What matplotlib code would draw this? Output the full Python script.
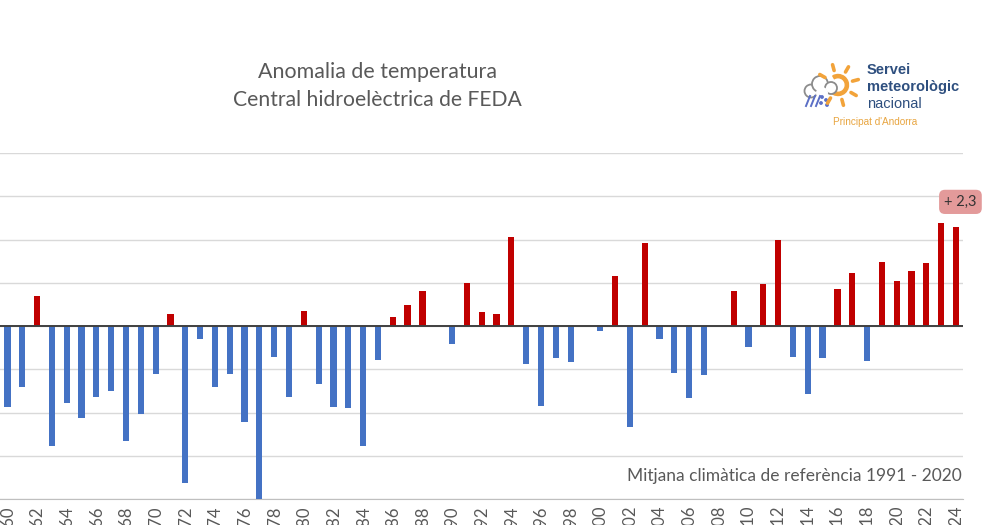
import matplotlib
matplotlib.use("Agg")
import matplotlib.pyplot as plt
from matplotlib.patches import Circle, Wedge
import numpy as np

# anomalia anual (graus) respecte 1991-2020
years = list(range(1960, 2025))
anomaly = [
    -1.87, -1.40, 0.70, -2.78, -1.77, -2.12, -1.64, -1.50, -2.67, -2.04,
    -1.12, 0.27, -3.62, -0.30, -1.40, -1.10, -2.21, -4.00, -0.71, -1.64,
    0.35, -1.35, -1.87, -1.89, -2.78, -0.79, 0.21, 0.49, 0.81, 0.00,
    -0.41, 0.99, 0.32, 0.28, 2.06, -0.89, -1.86, -0.73, -0.84, 0.00,
    -0.11, 1.16, -2.33, 1.93, -0.29, -1.09, -1.67, -1.13, 0.00, 0.82,
    -0.49, 0.96, 1.99, -0.72, -1.58, -0.74, 0.85, 1.23, -0.81, 1.49,
    1.04, 1.28, 1.45, 2.38, 2.29,
]
tick_years = years[::2]
title_lines = ["Anomalia de temperatura", "Central hidroelèctrica de FEDA"]
note = "Mitjana climàtica de referència 1991 - 2020"
last_label = "+ 2,3"

RED = "#C00000"
BLUE = "#4472C4"
GREY = "#595959"

plt.rcParams['font.family'] = ['Lato', 'DejaVu Sans']

fig = plt.figure(figsize=(10, 5.25), dpi=100)
ax = fig.add_axes([0.0, 26 / 525, 963.4 / 1000, 346 / 525])

colors = [RED if v > 0 else BLUE for v in anomaly]
ax.bar(years, anomaly, width=0.42, color=colors, zorder=3)

ax.set_xlim(1959.5, 2024.5)
ax.set_ylim(-4, 4)
ax.set_yticks(range(-4, 5))
ax.yaxis.grid(True, color="#D9D9D9", lw=1.0, zorder=0)
ax.tick_params(axis="y", left=False, labelleft=False)
ax.axhline(0, color="#404040", lw=1.4, zorder=4)
for s in ["top", "left", "right"]:
    ax.spines[s].set_visible(False)
ax.spines["bottom"].set_color("#BFBFBF")

ax.set_xticks(tick_years)
ax.set_xticklabels([str(y) for y in tick_years], rotation=90, color=GREY,
                   fontsize=12)
ax.tick_params(axis="x", length=0, pad=5)

ax.text(0.9985, 0.067, note, transform=ax.transAxes, ha="right",
        va="center", fontsize=12.5, color=GREY)

ax.annotate(last_label, xy=(years[-1], anomaly[-1]), xytext=(2024.3, 2.87),
            ha="center", va="center", fontsize=10.5, color="#333333",
            bbox=dict(boxstyle="round,pad=0.35,rounding_size=0.4",
                      fc="#E39A9A", ec="none"), annotation_clip=False)

fig.text(0.377, 1 - 72 / 525, title_lines[0], ha="center", va="center",
         fontsize=15.4, color=GREY)
fig.text(0.377, 1 - 100 / 525, title_lines[1], ha="center", va="center",
         fontsize=15.2, color=GREY)

# logo SMN
lg = fig.add_axes([0, 0, 1, 1])
lg.set_xlim(0, 1000)
lg.set_ylim(525, 0)
lg.axis("off")
sun_c = (838, 85)
lg.add_patch(Wedge(sun_c, 10.5, -120, 150, width=3.2, color="#F2A33A"))
for a in np.arange(-120, 160, 45):
    r = np.deg2rad(a)
    lg.plot([sun_c[0] + 15 * np.cos(r), sun_c[0] + 21 * np.cos(r)],
            [sun_c[1] - 15 * np.sin(r), sun_c[1] - 21 * np.sin(r)],
            color="#F2A33A", lw=2.6, solid_capstyle="round")
for (cx, cy, rr) in [(811, 91, 6.5), (820, 84, 8), (831, 88, 6)]:
    lg.add_patch(Circle((cx, cy), rr, fc="white", ec="#8C8C8C", lw=1.3))
lg.add_patch(Circle((822, 93), 6, fc="white", ec="none"))
for dx in [0, 5, 10]:
    lg.plot([806 + dx, 810 + dx], [106, 96], color="#5B6FC6", lw=1.4)
for (px, py) in [(822, 97), (826, 100), (821, 103), (827, 105)]:
    lg.add_patch(Circle((px, py), 1.2, color="#5B6FC6"))
logo_font = ["Liberation Sans", "DejaVu Sans"]
lg.text(867, 70, "Servei", fontsize=10.5, fontweight="bold", color="#2E4F7F",
        va="center", family=logo_font)
lg.text(867, 87, "meteorològic", fontsize=10.5, fontweight="bold",
        color="#2E4F7F", va="center", family=logo_font)
lg.text(867, 104, "nacional", fontsize=10.5, color="#2E4F7F", va="center",
        family=logo_font)
lg.text(833, 122, "Principat d'Andorra", fontsize=7.2, color="#E8A540",
        va="center", family=logo_font)

fig.savefig("out.png", dpi=100, facecolor="white")
